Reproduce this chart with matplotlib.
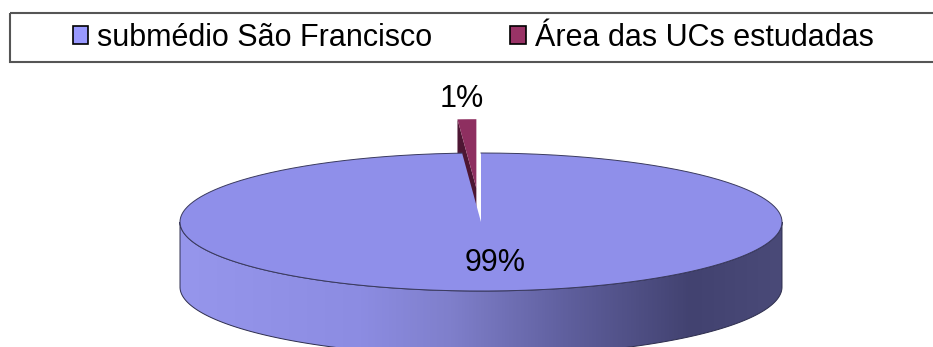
import numpy as np
import matplotlib
matplotlib.use('Agg')
import matplotlib.pyplot as plt
from matplotlib.patches import Polygon, Rectangle, Patch
from matplotlib.colors import LinearSegmentedColormap

labels = ['submédio São Francisco', 'Área das UCs estudadas']
values = [99, 1]
legend_colors = ['#9999FF', '#993366']

plt.rcParams['font.family'] = ['Liberation Sans', 'DejaVu Sans']

W, H = 933, 347
fig = plt.figure(figsize=(W / 100, H / 100), dpi=100)
ax = fig.add_axes([0, 0, 1, 1])

# pie geometry in pixel units (flattened 3d disc)
cx, cy, rx, ry, depth = 481, 222, 301, 69, 65
explode = 0.49


def ell(theta, dx=0.0, dy=0.0, k=1.0):
    # theta in degrees, clockwise from 12 o'clock
    t = np.radians(np.atleast_1d(theta))
    return np.column_stack([cx + dx + k * rx * np.sin(t), cy + dy - k * ry * np.cos(t)])


fracs = np.array(values) / sum(values)
edges = np.concatenate([[0], np.cumsum(fracs) * 360])

# small exploded slice (sits behind the big one)
a0, a1 = edges[1], edges[2]
mid = (a0 + a1) / 2
ox = explode * rx * np.sin(np.radians(mid))
oy = -explode * ry * np.cos(np.radians(mid))
arc_w = ell(np.linspace(a0, a1, 20), ox, oy)
apex = np.array([cx + ox, cy + oy])
cut = np.array([apex, arc_w[0], arc_w[0] + [0, depth], apex + [0, depth]])
ax.add_patch(Polygon(cut, closed=True, fc='#4d1633', ec='none', zorder=1))
ax.add_patch(Polygon(np.vstack([apex, arc_w]), closed=True, fc='#8e2f60', ec='none', zorder=2))

# front wall of the big slice with a left-to-right shading
front = ell(np.linspace(90, 270, 300))
wall = Polygon(np.vstack([front, front[::-1] + [0, depth]]), closed=True,
               fc='none', ec='#2d2d4d', lw=0.7, zorder=3.5)
ax.add_patch(wall)
shade = LinearSegmentedColormap.from_list('wall', [
    (0.0, '#9696EC'), (0.3, '#8C8CE2'), (0.45, '#7F7FCB'),
    (0.65, '#5E5E9C'), (0.85, '#424270'), (1.0, '#4A4A78')])
im = ax.imshow(np.linspace(0, 1, 512)[None, :], cmap=shade, aspect='auto',
               extent=(cx - rx, cx + rx, cy + ry + depth + 2, cy - 2),
               interpolation='bilinear', zorder=3)
im.set_clip_path(wall)

# top face of the big slice
arc_b = ell(np.linspace(edges[0], edges[1], 500))
ax.add_patch(Polygon(np.vstack([[cx, cy], arc_b]), closed=True, fc='#8F8FEA', ec='none', zorder=4))
ax.plot(arc_b[:, 0], arc_b[:, 1], color='#3a3a5e', lw=0.7, zorder=5)

# percentage labels
p_big = ell((edges[0] + edges[1]) / 2, k=0.6)[0]
ax.text(p_big[0] + 8, p_big[1], f'{values[0]}%', fontsize=22, ha='center', va='center', zorder=6)
p_small = ell(mid, ox, oy, k=1.3)[0]
ax.text(p_small[0] - 2, p_small[1], f'{values[1]}%', fontsize=22, ha='center', va='center', zorder=6)

# legend across the top
handles = [Patch(fc=c, ec='black', lw=1.2) for c in legend_colors]
ax.legend(handles, labels, ncol=2, loc='center left', bbox_to_anchor=(73 / W, 1 - 38 / H),
          frameon=False, borderpad=0, borderaxespad=0, handlelength=0.5, handleheight=0.5,
          handletextpad=0.3, columnspacing=2.55, fontsize=22)
ax.add_patch(Rectangle((10, 13), 930, 49, fc='none', ec='#555555', lw=1.5, zorder=6))

ax.set_xlim(0, W)
ax.set_ylim(H, 0)
ax.axis('off')

fig.savefig('out.png', dpi=100)
